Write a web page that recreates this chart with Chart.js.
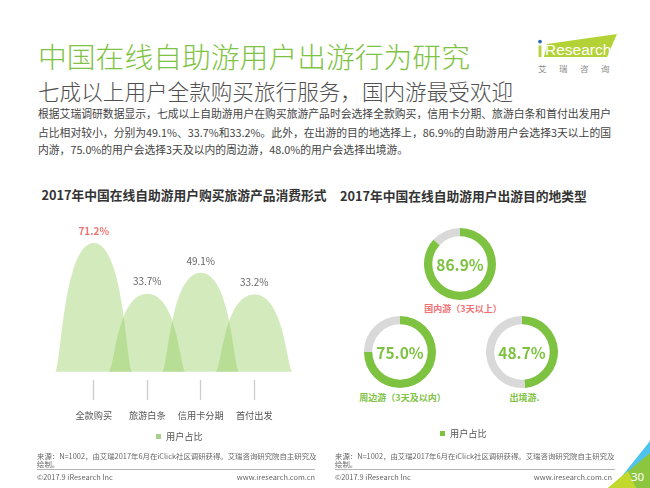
<!DOCTYPE html>
<html>
<head>
<meta charset="utf-8">
<script src="https://cdn.jsdelivr.net/npm/chart.js@4.4.0/dist/chart.umd.min.js"></script>
<style>
  body { margin: 0; width: 650px; height: 488px; background: #fff; position: relative; overflow: hidden;
         font-family: "Noto Sans CJK SC", "Noto Sans", sans-serif; }
  .abs { position: absolute; white-space: nowrap; }
  #title { left: 38px; top: 38px; font-size: 28.8px; line-height: 36px; color: #80c344; font-weight: 300; }
  #subtitle { left: 38px; top: 77px; font-size: 21.6px; line-height: 28px; color: #505050; font-weight: 300; }
  .para { left: 38px; width: 573px; font-size: 10.8px; line-height: 18px; color: #444; }
  .para.just { text-align: justify; text-align-last: justify; }
  .ctitle { font-size: 12.75px; line-height: 16px; font-weight: bold; color: #333; }
  .src { font-size: 7.4px; line-height: 8.3px; color: #666; }
  .sep { height: 1.5px; background: #b4b4b4; }
  .foot { font-size: 7.4px; line-height: 9px; color: #666; }
  .ring { position: absolute; width: 72px; height: 72px; }
  .rlabel { position: absolute; font-size: 9px; line-height: 11px; font-weight: bold; white-space: nowrap; transform: translateX(-50%); }
  .lgbox { position: absolute; width: 5px; height: 5px; }
  .lgtext { position: absolute; font-size: 9.2px; line-height: 11px; color: #555; white-space: nowrap; }
</style>
</head>
<body>
<div id="title" class="abs">中国在线自助游用户出游行为研究</div>
<div id="subtitle" class="abs">七成以上用户全款购买旅行服务，国内游最受欢迎</div>
<div class="abs para just" style="top:104px">根据艾瑞调研数据显示，七成以上自助游用户在购买旅游产品时会选择全款购买，信用卡分期、旅游白条和首付出发用户</div>
<div class="abs para just" style="top:122.5px">占比相对较小，分别为49.1%、33.7%和33.2%。此外，在出游的目的地选择上，86.9%的自助游用户会选择3天以上的国</div>
<div class="abs para" style="top:140px">内游，75.0%的用户会选择3天及以内的周边游，48.0%的用户会选择出境游。</div>

<svg class="abs" style="left:0;top:0" width="650" height="488">
  <polygon points="547,44 617,34 607,57 544,57" fill="#b3d236"/>
  <rect x="538.6" y="45.5" width="2.8" height="11.5" fill="#b3d236"/>
  <circle cx="540" cy="41.6" r="1.9" fill="#2a6db5"/>
  <text x="545" y="54.5" font-family="Liberation Sans, Arial, sans-serif" font-size="15.5" fill="#fff">Research</text>
  <text x="538" y="71.5" font-family="Noto Sans CJK SC" font-size="8.5" fill="#8a8a8a" letter-spacing="12.5">艾瑞咨询</text>
  <polygon points="622,476 650,441 650,463" fill="#4fc3ee"/>
  <polygon points="608,488 650,453 650,488" fill="#8cc63f"/>
  <polygon points="608,488 628,471 636,488" fill="#c3d82d"/>
  <text x="631" y="481" font-family="Noto Sans, sans-serif" font-size="11.5" fill="#fff">30</text>
</svg>

<div class="abs ctitle" style="left:41.5px;top:187px">2017年中国在线自助游用户购买旅游产品消费形式</div>
<div class="abs ctitle" style="left:340px;top:188px">2017年中国在线自助游用户出游目的地类型</div>

<div class="abs" style="left:40px;top:215px;width:280px;height:233px"><canvas id="spendChart"></canvas></div>
<div class="lgbox" style="left:156px;top:434.2px;background:#a9d18e"></div>
<div class="lgtext" id="spendLegend" style="left:166px;top:431.2px"></div>

<div id="rings"></div>
<div class="lgbox" style="left:440px;top:430.5px;background:#7ec242"></div>
<div class="lgtext" id="destLegend" style="left:450px;top:427.5px"></div>

<div class="abs src" style="left:37px;top:451.5px">来源：N=1002，由艾瑞2017年6月在iClick社区调研获得。艾瑞咨询研究院自主研究及<br>绘制。</div>
<div class="abs src" style="left:335px;top:451.5px">来源：N=1002，由艾瑞2017年6月在iClick社区调研获得。艾瑞咨询研究院自主研究及<br>绘制。</div>
<div class="abs sep" style="left:37px;top:468.5px;width:278px"></div>
<div class="abs sep" style="left:335px;top:468.5px;width:280px"></div>
<div class="abs foot" style="left:37px;top:471.5px">©2017.9 iResearch Inc</div>
<div class="abs foot" style="left:37px;top:471.5px;width:278px;text-align:right">www.iresearch.com.cn</div>
<div class="abs foot" style="left:335px;top:471.5px">©2017.9 iResearch Inc</div>
<div class="abs foot" style="left:335px;top:471.5px;width:277px;text-align:right">www.iresearch.com.cn</div>

<script>
// Data
const seriesName = "用户占比";
const spendCategories = ["全款购买", "旅游白条", "信用卡分期", "首付出发"];
const spendShares = [71.2, 33.7, 49.1, 33.2];
const destCategories = ["国内游（3天以上）", "周边游（3天及以内）", "出境游."];
const destShares = [86.9, 75.0, 48.7];

const FONT = '"Noto Sans CJK SC", "Noto Sans", sans-serif';
const GREEN = "#7ec242";
const RED = "#f07272";
const HUMP_FILL = "rgba(145, 203, 90, 0.40)";

Chart.defaults.font.family = FONT;

// Draw each bar as a soft hump instead of a rectangle
const humpPlugin = {
  id: "humps",
  beforeDatasetsDraw(chart) {
    const ctx = chart.ctx;
    const meta = chart.getDatasetMeta(0);
    ctx.save();
    ctx.fillStyle = HUMP_FILL;
    meta.data.forEach(bar => {
      const w = bar.width * 1.45;
      const x = bar.x, top = bar.y, base = bar.base;
      ctx.beginPath();
      ctx.moveTo(x - w / 2, base);
      ctx.bezierCurveTo(x - w * 0.42, base, x - w * 0.40, top, x, top);
      ctx.bezierCurveTo(x + w * 0.40, top, x + w * 0.42, base, x + w / 2, base);
      ctx.closePath();
      ctx.fill();
    });
    ctx.restore();
    return false; // skip default rectangles
  },
  afterDraw(chart) {
    const ctx = chart.ctx;
    const meta = chart.getDatasetMeta(0);
    ctx.save();
    ctx.textAlign = "center";
    ctx.textBaseline = "middle";
    meta.data.forEach((bar, i) => {
      const first = i === 0;
      ctx.fillStyle = first ? RED : "#666";
      ctx.font = (first ? "bold " : "") + "10px " + FONT;
      ctx.fillText(spendShares[i].toFixed(1) + "%", bar.x, bar.y - 12);
    });
    ctx.restore();
  }
};

new Chart(document.getElementById("spendChart"), {
  type: "bar",
  data: {
    labels: spendCategories,
    datasets: [{
      label: seriesName,
      data: spendShares,
      base: -24,
      backgroundColor: "#a9d18e",
      borderWidth: 0,
      barPercentage: 1,
      categoryPercentage: 1
    }]
  },
  options: {
    responsive: true,
    maintainAspectRatio: false,
    animation: false,
    layout: { padding: { left: 27, right: 39, top: 16, bottom: 17 } },
    scales: {
      x: {
        grid: { drawOnChartArea: false, offset: false, tickLength: 20, tickColor: "#cccccc", tickWidth: 1.3 },
        border: { display: false },
        ticks: { color: "#555", font: { size: 9.2 }, padding: 10 }
      },
      y: { display: false, min: -30, max: 80 }
    },
    plugins: {
      legend: { display: false },
      tooltip: { enabled: false }
    }
  },
  plugins: [humpPlugin]
});

// Percentage text in the middle of a ring
const centerText = {
  id: "centerText",
  afterDraw(chart) {
    const { ctx, chartArea } = chart;
    const v = chart.data.datasets[0].data[0];
    ctx.save();
    ctx.fillStyle = GREEN;
    ctx.font = "bold 15.5px " + FONT;
    ctx.textAlign = "center";
    ctx.textBaseline = "middle";
    ctx.fillText(v.toFixed(1) + "%", (chartArea.left + chartArea.right) / 2, (chartArea.top + chartArea.bottom) / 2 + 1);
    ctx.restore();
  }
};

// ring centres and label rows on the page
const ringSpots = [
  { cx: 460, cy: 264, ly: 302.5, color: RED },
  { cx: 399.5, cy: 351.5, ly: 392, color: GREEN },
  { cx: 521.5, cy: 351.5, ly: 392, color: GREEN }
];

const rings = document.getElementById("rings");
destCategories.forEach((name, i) => {
  const spot = ringSpots[i];
  const box = document.createElement("div");
  box.className = "ring";
  box.style.left = (spot.cx - 36) + "px";
  box.style.top = (spot.cy - 36) + "px";
  const cv = document.createElement("canvas");
  box.appendChild(cv);
  rings.appendChild(box);

  const lab = document.createElement("div");
  lab.className = "rlabel";
  lab.textContent = name;
  lab.style.left = (spot.cx + 3) + "px";
  lab.style.top = spot.ly + "px";
  lab.style.color = spot.color;
  rings.appendChild(lab);

  new Chart(cv, {
    type: "doughnut",
    data: {
      labels: [name, ""],
      datasets: [{
        data: [destShares[i], 100 - destShares[i]],
        backgroundColor: [GREEN, "#d9d9d9"],
        borderWidth: 0
      }]
    },
    options: {
      responsive: true,
      maintainAspectRatio: false,
      animation: false,
      cutout: "77%",
      plugins: { legend: { display: false }, tooltip: { enabled: false } }
    },
    plugins: [centerText]
  });
});

document.getElementById("spendLegend").textContent = seriesName;
document.getElementById("destLegend").textContent = seriesName;
</script>
</body>
</html>
